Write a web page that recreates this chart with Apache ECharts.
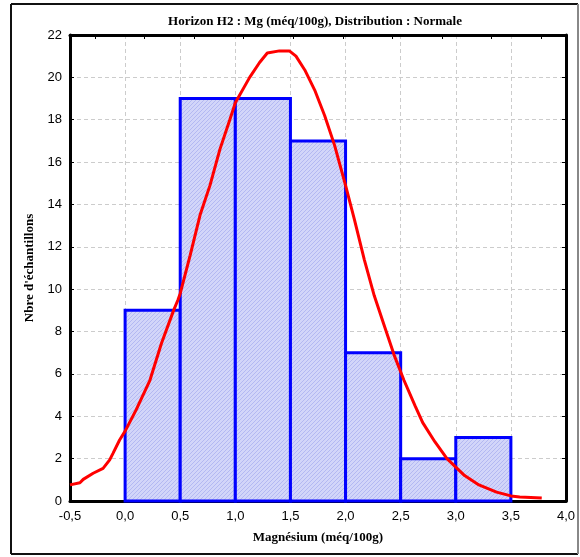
<!DOCTYPE html>
<html>
<head>
<meta charset="utf-8">
<script src="https://cdn.jsdelivr.net/npm/echarts@6/dist/echarts.min.js"></script>
<style>html,body{margin:0;padding:0;background:#fff}#c{width:580px;height:557px}</style>
</head>
<body>
<div id="c"></div>
<script>
// ---- data ----
const binStart = [0.0, 0.5, 1.0, 1.5, 2.0, 2.5, 3.0];
const binEnd   = [0.5, 1.0, 1.5, 2.0, 2.5, 3.0, 3.5];
const counts   = [9, 19, 19, 17, 7, 2, 3];
const curveX = [-0.5,-0.41,-0.38,-0.29,-0.2,-0.14,-0.11,-0.05,0.0,0.1,0.225,0.33,0.44,0.48,0.5,0.59,0.68,0.77,0.86,0.95,1.0,1.13,1.22,1.29,1.4,1.49,1.55,1.63,1.72,1.81,1.9,2.0,2.08,2.17,2.26,2.35,2.44,2.53,2.63,2.7,2.81,2.92,3.0,3.08,3.21,3.37,3.5,3.58,3.78];
const curveY = [0.76,0.86,1.02,1.31,1.54,1.94,2.25,2.88,3.3,4.3,5.7,7.45,9.0,9.5,9.8,11.6,13.5,14.9,16.6,18.0,18.8,20.0,20.7,21.15,21.25,21.25,21.0,20.35,19.4,18.2,16.8,14.9,13.3,11.4,9.7,8.3,6.9,5.7,4.5,3.7,2.8,2.0,1.6,1.2,0.76,0.42,0.24,0.19,0.14];
const xTicks = ['-0,5','0,0','0,5','1,0','1,5','2,0','2,5','3,0','3,5','4,0'];
const titleText = 'Horizon H2 : Mg (méq/100g), Distribution : Normale';
const xName = 'Magnésium (méq/100g)';
const yName = "Nbre d'échantillons";

// hatch pattern
const pc = document.createElement('canvas');
pc.width = 4; pc.height = 4;
const g = pc.getContext('2d');
g.fillStyle = '#d2d5f9'; g.fillRect(0,0,4,4);
g.fillStyle = '#b3b8f2';
for (let i=0;i<4;i++){ g.fillRect(i,3-i,1,1); }

const histData = binStart.map((s,i)=>[s, binEnd[i], counts[i]]);
const curveData = curveX.map((x,i)=>[x, curveY[i]]);

const chart = echarts.init(document.getElementById('c'));
const lblFont = {color:'#000', fontFamily:'Liberation Sans', fontSize:13};
const nameFont = {fontFamily:'Liberation Serif', fontWeight:'bold', fontSize:13, color:'#000', letterSpacing:1};
chart.setOption({
  animation:false,
  title:{text:titleText, left:310, top:10, textAlign:'center',
    textStyle:Object.assign({}, nameFont)},
  grid:{left:70, top:35, right:14, bottom:56, show:false},
  xAxis:[{
    type:'value', min:-0.5, max:4.0, interval:0.5,
    axisLine:{show:true, onZero:false, lineStyle:{color:'#000', width:3}},
    axisTick:{show:true, inside:true, length:4, lineStyle:{color:'#000'}},
    axisLabel:Object.assign({margin:9, formatter:(v)=>{const i=Math.round((v+0.5)/0.5);return xTicks[i]||'';}}, lblFont),
    splitLine:{show:true, lineStyle:{color:'#cccccc', type:[4,3], width:1}},
    name:xName, nameLocation:'middle', nameGap:30,
    nameTextStyle:nameFont
  },{
    type:'value', position:'top', min:0, max:10,
    axisLine:{show:true, onZero:false, lineStyle:{color:'#000', width:3}},
    axisTick:{show:true, inside:true, length:4, lineStyle:{color:'#000'}, customValues:[0.5,1.5,2.5,3.5,4.5,5.5,6.5,7.5,8.5,9.5]},
    axisLabel:{show:false}, splitLine:{show:false}
  }],
  yAxis:[{
    type:'value', min:0, max:22, interval:2,
    axisLine:{show:true, onZero:false, lineStyle:{color:'#000', width:3}},
    axisTick:{show:true, inside:true, length:4, lineStyle:{color:'#000'}},
    axisLabel:Object.assign({margin:8}, lblFont),
    splitLine:{show:true, lineStyle:{color:'#cccccc', type:[4,3], width:1}},
    name:yName, nameLocation:'middle', nameGap:30, nameRotate:90,
    nameTextStyle:nameFont
  },{
    type:'value', position:'right', min:0, max:22, interval:2,
    axisLine:{show:true, onZero:false, lineStyle:{color:'#000', width:3}},
    axisTick:{show:true, inside:true, length:4, lineStyle:{color:'#000'}},
    axisLabel:{show:false}, splitLine:{show:false}
  }],
  graphic:[
    {type:'line', shape:{x1:11,y1:4,x2:578,y2:4}, style:{stroke:'#111', lineWidth:2}},
    {type:'line', shape:{x1:11,y1:4,x2:11,y2:554}, style:{stroke:'#111', lineWidth:2}},
    {type:'line', shape:{x1:11,y1:554,x2:578,y2:554}, style:{stroke:'#111', lineWidth:2}},
    {type:'line', shape:{x1:578,y1:4,x2:578,y2:554}, style:{stroke:'#888', lineWidth:2}}
  ],
  series:[{
    type:'custom', xAxisIndex:0, yAxisIndex:0, data:histData, z:2,
    renderItem:(params, api)=>{
      const p0 = api.coord([api.value(0), api.value(2)]);
      const p1 = api.coord([api.value(1), 0]);
      return {type:'rect', shape:{x:p0[0], y:p0[1], width:p1[0]-p0[0], height:p1[1]-p0[1]},
        style:{fill:{image:pc, repeat:'repeat'}, stroke:'#0000ff', lineWidth:3}};
    }
  },{
    type:'line', xAxisIndex:0, yAxisIndex:0, data:curveData, symbol:'none', z:3,
    lineStyle:{color:'#ff0000', width:3}
  }]
});
</script>
</body>
</html>
